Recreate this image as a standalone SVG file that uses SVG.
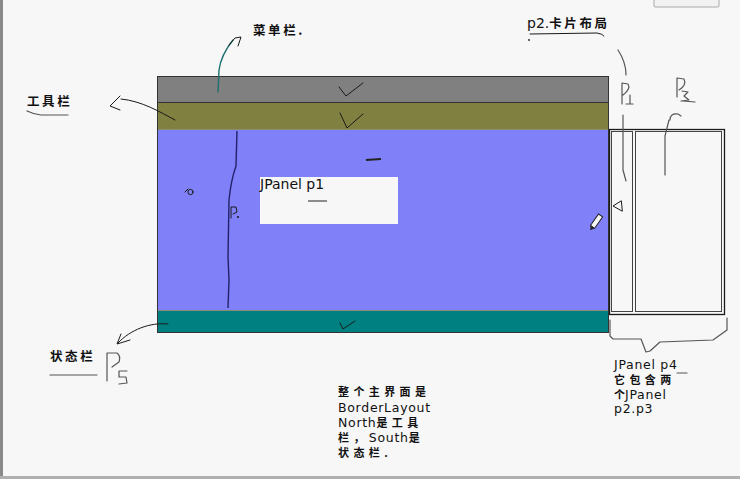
<svg xmlns="http://www.w3.org/2000/svg" width="740" height="479" viewBox="0 0 740 479">
<style>
.cjk{font-family:"Noto Sans CJK SC","Noto Sans CJK JP",sans-serif;font-weight:bold;font-size:12.5px;letter-spacing:2.6px;fill:#111}
.cjk2{font-family:"Noto Sans CJK SC","Noto Sans CJK JP",sans-serif;font-weight:bold;font-size:11px;letter-spacing:4.4px;fill:#111}
.lat{font-family:"DejaVu Sans","Noto Sans CJK SC",sans-serif;font-size:14px;fill:#111}
.lat2{font-family:"DejaVu Sans","Noto Sans CJK SC",sans-serif;font-size:12.5px;letter-spacing:0.7px;fill:#111}
.ink{fill:none;stroke:#1a1a1a;stroke-width:1;stroke-linecap:round;stroke-linejoin:round}
.ink2{fill:none;stroke:#555;stroke-width:1.2;stroke-linecap:round;stroke-linejoin:round}
.band{stroke:#333;stroke-width:1}
</style>
<rect width="740" height="479" fill="#f7f7f7"/>
<rect x="0" y="0" width="3" height="479" fill="#8a8a8a"/>
<rect x="0" y="476" width="740" height="3" fill="#b0b0b0"/>
<rect x="654" y="-4" width="65" height="11" rx="2" fill="#f2f2f2" stroke="#c4c4c4" stroke-width="1.5"/>

<g id="main-frame">
  <rect class="band" x="157.5" y="76.5" width="451" height="26" fill="#808080"/>
  <rect class="band" x="157.5" y="102.5" width="451" height="27" fill="#808040"/>
  <rect x="157.5" y="129.5" width="451" height="181" fill="#8080f8" stroke="#333" stroke-width="1"/>
  <rect class="band" x="157.5" y="310.5" width="451" height="22" fill="#008080"/>
  <line x1="158" y1="310.5" x2="608" y2="310.5" stroke="#8a8a70" stroke-width="1"/>
  <line x1="158" y1="129.5" x2="608" y2="129.5" stroke="#8a8a70" stroke-width="1"/>
</g>

<g id="p1">
  <rect x="260" y="177" width="138" height="47" fill="#f7f7f7"/>
  <text class="lat" x="260" y="189">JPanel p1</text>
  <line x1="308" y1="201" x2="327" y2="201" stroke="#222" stroke-width="1"/>
</g>

<g id="p4">
  <rect x="609.5" y="129.5" width="115" height="185" fill="#f7f7f7" stroke="#1a1a1a" stroke-width="1.3"/>
  <rect x="611.5" y="131.5" width="21" height="180" fill="none" stroke="#444" stroke-width="1"/>
  <rect x="635.5" y="131.5" width="86" height="180" fill="none" stroke="#444" stroke-width="1"/>
</g>

<g id="connectors">
  <path d="M218,92 L219,70 Q221,55 233,40" fill="none" stroke="#1f6f70" stroke-width="1.4" stroke-linecap="round"/>
  <path d="M229,45 L235,38 L241,37 L238,46" class="ink"/>
  <path d="M175,120 C160,112 142,101 121,99" class="ink"/>
  <path d="M120,96 L110,106 L120,110" class="ink"/>
  <path d="M168,324 C150,322 130,330 118,343" class="ink"/>
  <path d="M121,334 L117,344 L130,340" class="ink"/>
</g>

<g id="marks">
  <path d="M339,87 L346,96 L363,83" class="ink"/>
  <path d="M340,113 L347,128 L363,114" class="ink"/>
  <path d="M340,323 L343,329 L355,321" class="ink"/>
  <path d="M237,131 L236,166 Q231,180 229,200 L228,257 L229,280 L228,308" fill="none" stroke="#22226a" stroke-width="1.4"/>
  <path d="M231,218 L231,207 L236,207 L237,212 L233,214" class="ink"/>
  <circle cx="238" cy="217" r="1" fill="#111"/>
  <path d="M185,192 L188,189" class="ink"/>
  <circle cx="190.5" cy="192" r="2.6" class="ink"/>
  <path d="M366,160 L381,159" fill="none" stroke="#222" stroke-width="2"/>
  <path d="M621,201 L613,206 L622,211 Z" class="ink"/>
  <g transform="translate(596,222) rotate(35)">
    <rect x="-2.5" y="-8" width="5" height="14" fill="#f7f7f7" stroke="#222" stroke-width="1"/>
    <path d="M-2.5,6 L0,10 L2.5,6" fill="#222"/>
  </g>
  <path d="M618,50 Q626,62 626,75" class="ink2"/>
  <path d="M622,104 L622,83 L628,84 Q631,89 623,95" class="ink2"/>
  <path d="M630,95 L630,104 M626,104 L633,104" class="ink2"/>
  <path d="M623,115 L623,170 L626,181" class="ink2"/>
  <path d="M677,97 L677,78 L684,79 Q687,85 679,90" class="ink2"/>
  <path d="M682,91 L688,92 L684,96 L689,100 L681,101 M683,101 L695,102" class="ink2"/>
  <path d="M670,120 Q670,113 678,114 L681,116 M669,120 L665,136 L665,175" class="ink2"/>
  <path d="M610,320 L610,336 L613,339 L641,339 L646,352 L650,351 L660,342 L713,340 L727,330 L727,318" class="ink2"/>
  <path d="M677,373 L687,373" class="ink2"/>
  <path d="M107,381 L107,353 L117,353 Q121,356 119,362 L112,367" class="ink2"/>
  <path d="M127,371 L119,371 L119,377 L126,377 L127,383 L119,384" class="ink2"/>
  <path d="M27,111 Q33,114 41,115 L68,115" class="ink2"/>
  <path d="M50,375 L97,375" class="ink2"/>
  <path d="M530,34 L597,33 Q603,34 604,36" class="ink"/>
  <circle cx="529" cy="40" r="0.9" fill="#222"/>
</g>

<g id="labels">
  <text class="cjk" x="253" y="35">菜单栏.</text>
  <text class="cjk" x="27" y="106">工具栏</text>
  <text class="cjk" x="50" y="361">状态栏</text>
  <text x="527" y="28"><tspan class="lat">p2.</tspan><tspan class="cjk">卡片布局</tspan></text>
  <text class="lat2" x="614" y="369">JPanel p4</text>
  <text class="cjk2" x="614" y="384">它包含两</text>
  <text x="614" y="399"><tspan class="cjk2" style="letter-spacing:0">个</tspan><tspan class="lat2">JPanel</tspan></text>
  <text class="lat2" x="614" y="413">p2.p3</text>
  <text class="cjk2" x="338" y="396">整个主界面是</text>
  <text class="lat2" x="338" y="412">BorderLayout</text>
  <text x="338" y="427"><tspan class="lat2">North</tspan><tspan class="cjk2">是工具</tspan></text>
  <text x="338" y="442"><tspan class="cjk2">栏，</tspan><tspan class="lat2">South</tspan><tspan class="cjk2">是</tspan></text>
  <text class="cjk2" x="338" y="457">状态栏.</text>
</g>
</svg>
